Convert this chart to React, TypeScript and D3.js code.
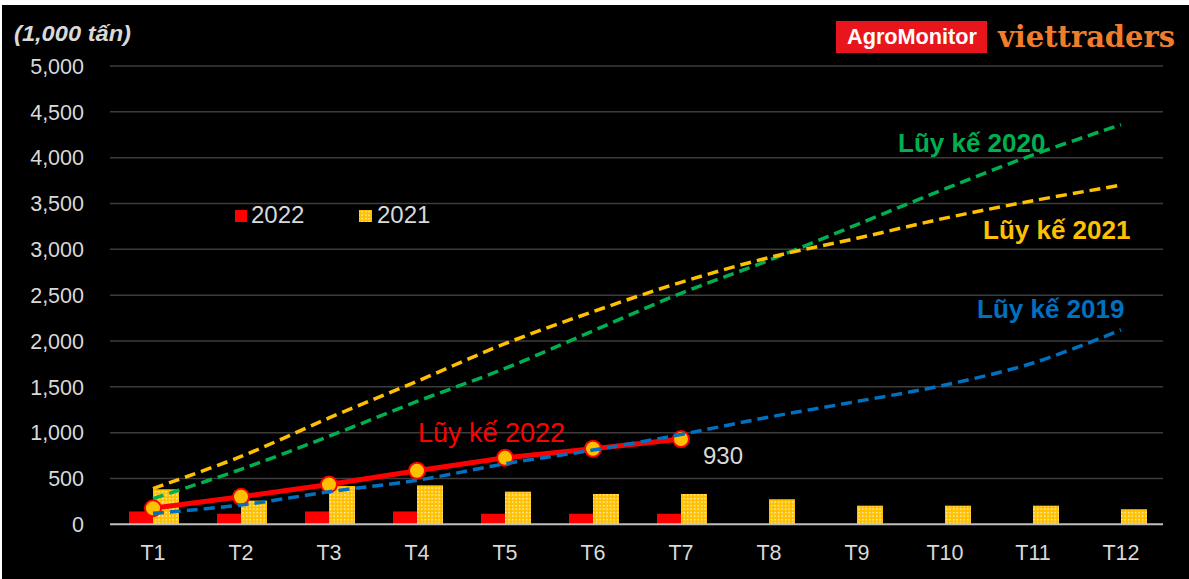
import React from 'react';
import * as d3 from 'd3';

// Months and tick labels
const months = ['T1', 'T2', 'T3', 'T4', 'T5', 'T6', 'T7', 'T8', 'T9', 'T10', 'T11', 'T12'];
const yTicks = [0, 500, 1000, 1500, 2000, 2500, 3000, 3500, 4000, 4500, 5000];

// Monthly volumes (1,000 tấn)
const monthly2022 = [140, 115, 140, 140, 115, 115, 115];
const monthly2021 = [382, 258, 418, 425, 356, 331, 331, 273, 203, 203, 203, 164];

// Cumulative volumes (1,000 tấn)
const cum2022 = [175, 300, 435, 585, 725, 825, 930];
const cum2021 = [390, 740, 1160, 1560, 1970, 2320, 2640, 2910, 3120, 3340, 3530, 3700];
const cum2020 = [280, 600, 960, 1340, 1700, 2110, 2520, 2880, 3270, 3660, 4030, 4360];
const cum2019 = [120, 210, 355, 480, 660, 810, 980, 1170, 1340, 1520, 1760, 2120];

const W = 1189;
const H = 579;
const FONT = '"Liberation Sans", Arial, sans-serif';
const AXIS_TEXT = '#d9d9d9';
const RED = '#ff0000';
const GOLD = '#ffc000';
const GREEN = '#00b050';
const BLUE = '#0070c0';

export default function App() {
  const x = d3.scaleBand<string>().domain(months).range([109, 1165]);
  const cx = (m: string) => (x(m) as number) + x.bandwidth() / 2;
  const y = d3.scaleLinear().domain([0, 5000]).range([524.3, 66]);

  const line = d3
    .line<number>()
    .x((_, i) => cx(months[i]))
    .y((d) => y(d))
    .curve(d3.curveCatmullRom.alpha(0.5));

  const straight = d3
    .line<number>()
    .x((_, i) => cx(months[i]))
    .y((d) => y(d));

  const dashed = [
    { data: cum2020, color: GREEN },
    { data: cum2021, color: GOLD },
  ];

  return (
    <svg
      width={W}
      height={H}
      style={{ position: 'absolute', left: 0, top: 0, background: '#ffffff' }}
    >
      <defs>
        <pattern id="dots2021" width={3.5} height={3.5} patternUnits="userSpaceOnUse">
          <rect width={3.5} height={3.5} fill={GOLD} />
          <rect x={1} y={1} width={1.3} height={1.3} fill="#ffffff" />
        </pattern>
      </defs>
      <rect x={2} y={5} width={W - 2} height={H - 5} fill="#000000" />

      {/* gridlines */}
      {yTicks.slice(1).map((t) => (
        <line key={t} x1={110} x2={1163} y1={y(t)} y2={y(t)} stroke="#3c3c3c" strokeWidth={1.5} />
      ))}

      {/* y tick labels */}
      {yTicks.map((t) => (
        <text
          key={t}
          x={84}
          y={y(t)}
          dy="0.36em"
          textAnchor="end"
          fontFamily={FONT}
          fontSize={21.5}
          fill={AXIS_TEXT}
        >
          {d3.format(',')(t)}
        </text>
      ))}

      <text
        x={14}
        y={41}
        fontFamily={FONT}
        fontSize={22}
        fontWeight="bold"
        fontStyle="italic"
        fill={AXIS_TEXT}
        textLength={117}
        lengthAdjust="spacingAndGlyphs"
      >
        (1,000 tấn)
      </text>

      {/* monthly bars */}
      {monthly2022.map((v, i) => (
        <rect key={'r' + i} x={cx(months[i]) - 24} y={y(v)} width={24} height={y(0) - y(v)} fill={RED} />
      ))}
      {monthly2021.map((v, i) => (
        <rect
          key={'g' + i}
          x={cx(months[i])}
          y={y(v)}
          width={26}
          height={y(0) - y(v)}
          fill="url(#dots2021)"
        />
      ))}

      {/* baseline */}
      <line x1={110} x2={1163} y1={y(0)} y2={y(0)} stroke="#bfbfbf" strokeWidth={2} />

      {/* x labels */}
      {months.map((m) => (
        <text key={m} x={cx(m)} y={560} textAnchor="middle" fontFamily={FONT} fontSize={21.5} fill={AXIS_TEXT}>
          {m}
        </text>
      ))}

      {/* cumulative 2020, 2021 */}
      {dashed.map((s) => (
        <path
          key={s.color}
          d={line(s.data) || ''}
          fill="none"
          stroke={s.color}
          strokeWidth={3.5}
          strokeDasharray="11 6"
        />
      ))}

      {/* cumulative 2022 */}
      <path d={straight(cum2022) || ''} fill="none" stroke={RED} strokeWidth={5} />
      {cum2022.map((v, i) => (
        <circle key={'c' + i} cx={cx(months[i])} cy={y(v)} r={8} fill={GOLD} stroke={RED} strokeWidth={2} />
      ))}

      {/* cumulative 2019 */}
      <path d={line(cum2019) || ''} fill="none" stroke={BLUE} strokeWidth={3.5} strokeDasharray="11 6" />

      {/* value label */}
      <text x={703} y={463.5} fontFamily={FONT} fontSize={24} fill={AXIS_TEXT}>
        930
      </text>

      {/* series labels */}
      <text x={898} y={152} fontFamily={FONT} fontSize={26} fontWeight="bold" fill={GREEN}>
        Lũy kế 2020
      </text>
      <text x={983} y={239} fontFamily={FONT} fontSize={26} fontWeight="bold" fill={GOLD}>
        Lũy kế 2021
      </text>
      <text x={977} y={318} fontFamily={FONT} fontSize={26} fontWeight="bold" fill={BLUE}>
        Lũy kế 2019
      </text>
      <text x={418} y={442} fontFamily={FONT} fontSize={27} fill={RED}>
        Lũy kế 2022
      </text>

      {/* legend */}
      <rect x={235} y={210} width={12} height={12} fill={RED} />
      <text x={251} y={223} fontFamily={FONT} fontSize={24} fill={AXIS_TEXT}>
        2022
      </text>
      <rect x={359} y={210} width={13} height={12} fill="url(#dots2021)" />
      <text x={377} y={223} fontFamily={FONT} fontSize={24} fill={AXIS_TEXT}>
        2021
      </text>

      {/* brand marks */}
      <rect x={836} y={21} width={151} height={32} fill="#e8161c" />
      <text
        x={847}
        y={44}
        fontFamily={FONT}
        fontSize={22}
        fontWeight="bold"
        fill="#ffffff"
        textLength={130}
        lengthAdjust="spacingAndGlyphs"
      >
        AgroMonitor
      </text>
      <text
        x={998}
        y={47}
        fontFamily='"DejaVu Serif", "Liberation Serif", serif'
        fontSize={29}
        fontWeight="bold"
        fill="#ef7d2b"
        textLength={177}
        lengthAdjust="spacingAndGlyphs"
      >
        viettraders
      </text>
    </svg>
  );
}
